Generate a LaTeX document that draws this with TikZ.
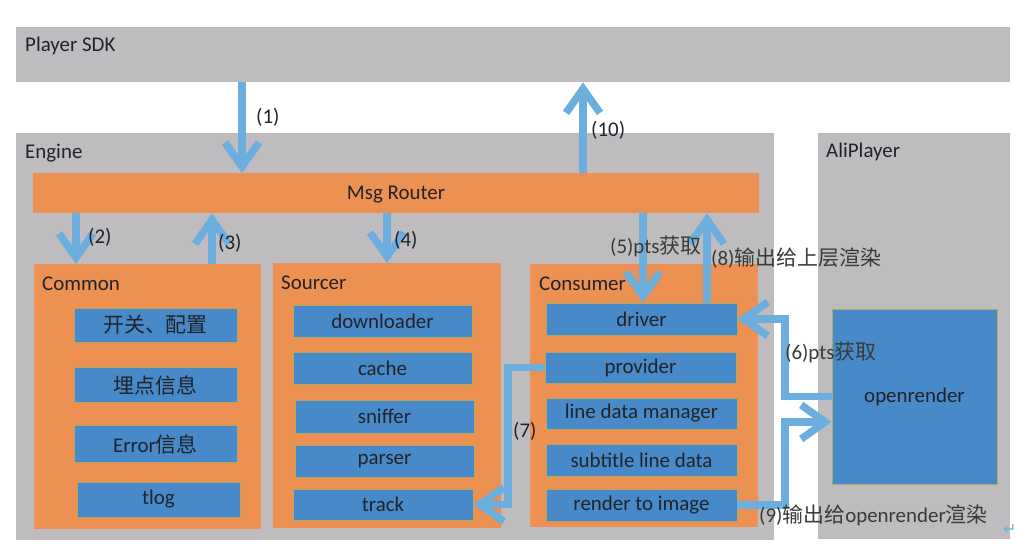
\documentclass[tikz,border=0pt]{standalone}
\usepackage{fontspec}
\setmainfont{Carlito}
\newfontfamily\cjk{Noto Sans CJK SC}
\newfontfamily\symb{DejaVu Sans}
\usetikzlibrary{arrows.meta}
\definecolor{laygray}{RGB}{190,188,190}
\definecolor{modorange}{RGB}{236,145,81}
\definecolor{unitblue}{RGB}{72,138,201}
\definecolor{unitedge}{RGB}{176,168,104}
\definecolor{flowblue}{RGB}{108,174,221}
\definecolor{textdark}{RGB}{34,34,40}
\definecolor{notegray}{RGB}{58,58,58}

\begin{document}
\begin{tikzpicture}[x=1bp, y=-1bp]
 \tikzstyle{layer}=[rectangle, fill=laygray, anchor=north west, inner sep=0pt]
 \tikzstyle{module}=[rectangle, fill=modorange, anchor=north west, inner sep=0pt]
 \tikzstyle{unit}=[rectangle, fill=unitblue, draw=unitedge, line width=0.6bp, text=textdark, inner sep=0pt, font=\fontsize{21}{25}\selectfont]
 \tikzstyle{tag}=[anchor=west, inner sep=0pt, text=textdark, font=\fontsize{21}{25}\selectfont]
 \tikzstyle{note}=[tag, text=notegray]
 \tikzstyle{flow}=[draw=flowblue, line width=7.5bp, -{Straight Barb[length=24bp, width=34bp]}]
 %
 \useasboundingbox (0,0) rectangle (1022,552);
 %
 \node[layer, minimum width=994bp, minimum height=55bp] (sdk) at (16,27) {};
 \node[layer, minimum width=758bp, minimum height=407bp] (engine) at (16,133) {};
 \node[layer, minimum width=192bp, minimum height=406bp] (aliplayer) at (818,133) {};
 \node[tag] (sdkname) at (25,46) {Player SDK};
 \node[tag] (enginename) at (25,153) {Engine};
 \node[tag] (aliname) at (826,152) {AliPlayer};
 %
 \node[module, minimum width=726bp, minimum height=40bp] (router) at (33,173) {};
 \node[tag, anchor=center] (routername) at (396,195) {Msg Router};
 \node[module, minimum width=227bp, minimum height=265bp] (common) at (34,264) {};
 \node[module, minimum width=228bp, minimum height=265bp] (sourcer) at (273,263) {};
 \node[module, minimum width=228bp, minimum height=263bp] (consumer) at (530,264) {};
 \node[tag] (commonname) at (42,284) {Common};
 \node[tag] (sourcername) at (281,283) {Sourcer};
 \node[tag] (consumername) at (539,284) {Consumer};
 %
 \node[unit, minimum width=163bp, minimum height=34bp] (switch) at (155.5,325) {\cjk 开关、配置};
 \node[unit, minimum width=163bp, minimum height=35bp] (track info) at (155.5,385) {\cjk 埋点信息};
 \node[unit, minimum width=163bp, minimum height=37bp] (error) at (155.5,444) {Error{\cjk 信息}};
 \node[unit, minimum width=163bp, minimum height=35bp] (tlog) at (158.5,499.5) {tlog};
 %
 \node[unit, minimum width=179bp, minimum height=32bp] (downloader) at (382.5,321) {downloader};
 \node[unit, minimum width=179bp, minimum height=32bp] (cache) at (382.5,368) {cache};
 \node[unit, minimum width=179bp, minimum height=33bp] (sniffer) at (384.5,416.5) {sniffer};
 \node[unit, minimum width=179bp, minimum height=32bp] (parser) at (384.5,461) {parser};
 \node[unit, minimum width=180bp, minimum height=31bp] (track) at (383,504.5) {track};
 %
 \node[unit, minimum width=191bp, minimum height=32bp] (driver) at (641.5,319) {driver};
 \node[unit, minimum width=191bp, minimum height=31bp] (provider) at (640.5,367.5) {provider};
 \node[unit, minimum width=191bp, minimum height=31bp] (linemgr) at (641.5,413.5) {line data manager};
 \node[unit, minimum width=191bp, minimum height=32bp] (subline) at (641.5,460) {subtitle line data};
 \node[unit, minimum width=191bp, minimum height=32bp] (render) at (641.5,505) {render to image};
 %
 \node[unit, minimum width=165bp, minimum height=175bp] (openrender) at (914.5,396.5) {openrender};
 %%
 \coordinate (c1) at (242,0);
 \coordinate (c10) at (583,0);
 \coordinate (c2) at (76,0);
 \coordinate (c3) at (212,0);
 \coordinate (c4) at (387,0);
 \coordinate (c5) at (643,0);
 \coordinate (c8) at (707,0);
 \coordinate (c7) at (508,0);
 \coordinate (k6) at (785,319);
 \coordinate (k9) at (785,422);
 %
 \draw[flow] (sdk.south -| c1)--(router.north -| c1);
 \draw[flow] (router.north -| c10)--(sdk.south -| c10);
 \draw[flow] (router.south -| c2)--(common.north -| c2);
 \draw[flow] (common.north -| c3)--(router.south -| c3);
 \draw[flow] (router.south -| c4)--(sourcer.north -| c4);
 \draw[flow] (router.south -| c5)--(driver.north -| c5);
 \draw[flow] (driver.north -| c8)--(router.south -| c8);
 \draw[flow] (openrender.west) -| (k6)--(driver.east);
 \draw[flow] (provider.west)--(provider.west -| c7) |- (track.east);
 \draw[flow] (render.east) -| (k9)--(k9 -| openrender.west);
 %
 \node[tag] (l1) at (256,117) {(1)};
 \node[tag] (l10) at (591,130) {(10)};
 \node[tag] (l2) at (88,237) {(2)};
 \node[tag] (l3) at (218,243) {(3)};
 \node[tag] (l4) at (394,240) {(4)};
 \node[note] (l5) at (610,246) {(5)pts{\cjk 获取}};
 \node[note] (l8) at (711,258) {(8){\cjk 输出给上层渲染}};
 \node[note] (l6) at (785,352) {(6)pts{\cjk 获取}};
 \node[tag] (l7) at (513,431) {(7)};
 \node[note] (l9) at (759,515) {(9){\cjk 输出给}openrender{\cjk 渲染}};
 \node[tag, text=flowblue, font=\symb\fontsize{16}{18}\selectfont] (mark) at (1003,530) {↵};
\end{tikzpicture}
\end{document}
